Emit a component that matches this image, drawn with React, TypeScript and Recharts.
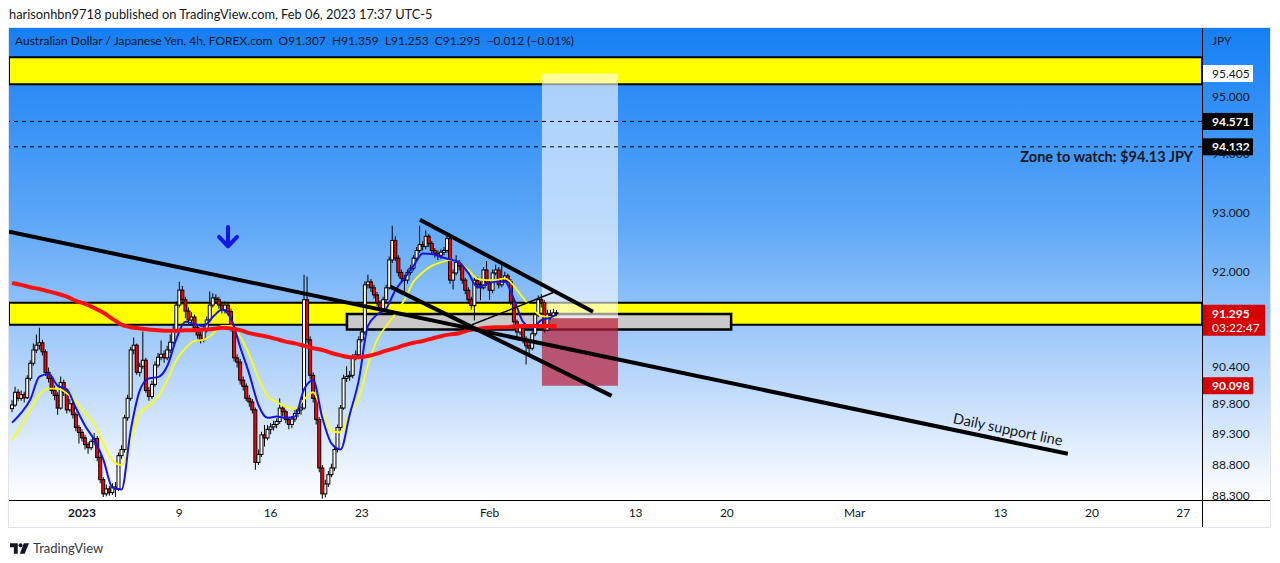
import React from "react";
import {
  ComposedChart,
  Bar,
  Line,
  XAxis,
  YAxis,
  ReferenceLine,
  ReferenceArea,
  ReferenceDot,
} from "recharts";

// AUD/JPY 4h candles (bar 0 = 27 Dec, bar 179 = 6 Feb 17:00)
const OPEN = [
  89.72, 89.78, 89.99, 89.89, 89.95, 89.9, 90.22, 90.47, 90.69, 90.77,
  90.81, 90.66, 90.32, 90.22, 90.02, 89.94, 89.73, 90.15, 89.99, 89.7,
  89.8, 89.62, 89.41, 89.33, 89.24, 89.13, 89.08, 89.18, 89.23, 88.92,
  88.56, 88.33, 88.41, 88.35, 88.44, 88.41, 88.95, 89.05, 89.57, 89.89,
  90.69, 90.77, 90.32, 90.42, 90.52, 90.02, 89.92, 90.12, 90.44, 90.57,
  90.62, 90.56, 90.69, 90.82, 91.02, 91.44, 91.69, 91.53, 91.34, 91.19,
  91.24, 91.06, 90.94, 90.86, 91.02, 91.19, 91.44, 91.56, 91.53, 91.44,
  91.36, 91.44, 91.33, 91.06, 90.56, 90.49, 90.19, 90.09, 89.89, 89.83,
  89.7, 88.84, 88.97, 89.29, 89.24, 89.38, 89.42, 89.46, 89.51, 89.73,
  89.67, 89.54, 89.46, 89.55, 89.64, 89.7, 89.73, 91.53, 90.86, 90.27,
  89.89, 89.54, 88.75, 88.33, 88.49, 88.64, 88.75, 89.05, 89.41, 89.73,
  90.22, 90.25, 90.27, 90.57, 90.61, 90.86, 90.99, 91.78, 91.83, 91.73,
  91.61, 91.48, 91.36, 91.53, 91.73, 92.2, 92.53, 92.23, 91.99, 91.89,
  91.86, 91.99, 92.06, 92.23, 92.36, 92.46, 92.43, 92.6, 92.48, 92.36,
  92.31, 92.28, 92.33, 92.36, 92.56, 91.86, 91.98, 92.16, 92.1, 91.86,
  91.69, 91.53, 91.43, 91.86, 91.79, 91.73, 92.03, 91.81, 91.69, 91.98,
  92.03, 91.78, 91.86, 91.93, 91.83, 91.49, 91.16, 90.99, 91.06, 90.86,
  90.76, 90.72, 90.96, 91.28, 91.53, 91.48, 91.02, 91.29, 91.26, 91.307,
];
const HIGH = [
  89.86, 90.08, 90.04, 90.02, 90.0, 90.27, 90.52, 90.8, 90.95, 91.06,
  90.86, 90.7, 90.4, 90.28, 90.1, 89.99, 90.25, 90.2, 90.03, 89.88,
  89.85, 89.66, 89.45, 89.38, 89.29, 89.17, 89.22, 89.32, 89.27, 88.96,
  88.6, 88.48, 88.46, 88.5, 88.52, 89.0, 89.12, 89.62, 89.95, 90.74,
  90.9, 90.8, 90.48, 91.0, 90.56, 90.08, 90.18, 90.5, 90.64, 90.85,
  90.68, 90.76, 90.95, 91.1, 91.5, 91.83, 91.76, 91.58, 91.4, 91.32,
  91.28, 91.12, 91.0, 91.08, 91.25, 91.67, 91.64, 91.62, 91.58, 91.5,
  91.5, 91.48, 91.38, 91.1, 90.62, 90.54, 90.25, 90.14, 89.95, 89.88,
  89.74, 89.05, 89.34, 89.45, 89.45, 89.48, 89.52, 89.56, 89.89, 89.78,
  89.7, 89.58, 89.6, 89.7, 89.76, 89.8, 91.95, 91.92, 90.92, 90.32,
  89.94, 89.58, 88.8, 88.56, 88.7, 88.82, 89.1, 89.46, 89.78, 90.28,
  90.42, 90.34, 90.62, 90.68, 90.92, 91.06, 91.84, 91.95, 91.88, 91.78,
  91.66, 91.52, 91.58, 91.78, 92.26, 92.78, 92.6, 92.28, 92.04, 91.95,
  92.04, 92.12, 92.28, 92.42, 92.78, 92.52, 92.7, 92.64, 92.52, 92.4,
  92.36, 92.38, 92.42, 92.62, 92.62, 92.04, 92.28, 92.2, 92.14, 91.9,
  91.74, 91.58, 91.92, 91.9, 91.84, 92.08, 92.18, 91.86, 92.04, 92.12,
  92.08, 92.14, 92.0, 91.97, 91.88, 91.54, 91.2, 91.12, 91.1, 90.92,
  90.82, 91.02, 91.34, 91.6, 91.62, 91.52, 91.36, 91.36, 91.38, 91.359,
];
const LOW = [
  89.66, 89.75, 89.84, 89.85, 89.82, 89.88, 90.18, 90.43, 90.64, 90.7,
  90.6, 90.26, 90.15, 89.96, 89.86, 89.62, 89.7, 89.93, 89.64, 89.66,
  89.56, 89.35, 89.15, 89.18, 89.05, 88.98, 89.04, 89.12, 88.86, 88.5,
  88.28, 88.29, 88.3, 88.31, 88.28, 88.38, 88.9, 89.0, 89.52, 89.85,
  90.62, 90.28, 90.25, 90.38, 89.98, 89.85, 89.88, 90.08, 90.4, 90.52,
  90.48, 90.52, 90.64, 90.78, 90.98, 91.4, 91.45, 91.22, 91.12, 91.14,
  91.0, 90.88, 90.8, 90.82, 90.98, 91.15, 91.4, 91.46, 91.38, 91.3,
  91.3, 91.26, 91.0, 90.5, 90.4, 90.12, 90.02, 89.84, 89.75, 89.64,
  88.72, 88.8, 88.93, 89.1, 89.2, 89.3, 89.36, 89.4, 89.47, 89.6,
  89.48, 89.38, 89.4, 89.5, 89.58, 89.62, 89.7, 90.8, 90.2, 89.82,
  89.46, 88.68, 88.25, 88.27, 88.44, 88.6, 88.7, 89.0, 89.36, 89.7,
  90.16, 90.18, 90.22, 90.52, 90.56, 90.82, 90.95, 91.72, 91.66, 91.55,
  91.42, 91.31, 91.32, 91.48, 91.7, 92.15, 92.18, 91.92, 91.82, 91.66,
  91.8, 91.94, 92.02, 92.18, 92.32, 92.36, 92.38, 92.42, 92.3, 92.24,
  92.2, 92.22, 92.28, 92.32, 91.8, 91.7, 91.94, 92.02, 91.8, 91.62,
  91.46, 91.36, 91.18, 91.72, 91.52, 91.7, 91.76, 91.53, 91.64, 91.94,
  91.72, 91.74, 91.82, 91.78, 91.44, 91.1, 90.92, 90.94, 90.8, 90.45,
  90.6, 90.68, 90.92, 91.24, 91.4, 90.98, 91.0, 91.2, 91.22, 91.253,
];
const CLOSE = [
  89.78, 89.99, 89.89, 89.95, 89.9, 90.22, 90.47, 90.69, 90.77, 90.81,
  90.66, 90.32, 90.22, 90.02, 89.94, 89.73, 90.15, 89.99, 89.7, 89.8,
  89.62, 89.41, 89.33, 89.24, 89.13, 89.08, 89.18, 89.23, 88.92, 88.56,
  88.33, 88.41, 88.35, 88.44, 88.41, 88.95, 89.05, 89.57, 89.89, 90.69,
  90.77, 90.32, 90.42, 90.52, 90.02, 89.92, 90.12, 90.44, 90.57, 90.62,
  90.56, 90.69, 90.82, 91.02, 91.44, 91.69, 91.53, 91.34, 91.19, 91.24,
  91.06, 90.94, 90.86, 91.02, 91.19, 91.44, 91.56, 91.53, 91.44, 91.36,
  91.44, 91.33, 91.06, 90.56, 90.49, 90.19, 90.09, 89.89, 89.83, 89.7,
  88.84, 88.97, 89.29, 89.24, 89.38, 89.42, 89.46, 89.51, 89.73, 89.67,
  89.54, 89.46, 89.55, 89.64, 89.7, 89.73, 91.53, 90.86, 90.27, 89.89,
  89.54, 88.75, 88.33, 88.49, 88.64, 88.75, 89.05, 89.41, 89.73, 90.22,
  90.25, 90.27, 90.57, 90.61, 90.86, 90.99, 91.78, 91.83, 91.73, 91.61,
  91.48, 91.36, 91.53, 91.73, 92.2, 92.53, 92.23, 91.99, 91.89, 91.86,
  91.99, 92.06, 92.23, 92.36, 92.46, 92.43, 92.6, 92.48, 92.36, 92.31,
  92.28, 92.33, 92.36, 92.56, 91.86, 91.98, 92.16, 92.1, 91.86, 91.69,
  91.53, 91.43, 91.86, 91.79, 91.73, 92.03, 91.81, 91.69, 91.98, 92.03,
  91.78, 91.86, 91.93, 91.83, 91.49, 91.16, 90.99, 91.06, 90.86, 90.76,
  90.72, 90.96, 91.28, 91.53, 91.48, 91.02, 91.29, 91.26, 91.31, 91.295,
];

// moving averages, read every 3rd bar (plus the last one)
const MA_AT = Array.from({ length: 60 }, (_, k) => k * 3).concat(179);
const MA_FAST = [
  89.49, 89.65, 89.87, 90.25, 90.29, 90.1, 90.04, 89.73, 89.44, 89.21,
  88.89, 88.43, 88.4, 89.36, 90.02, 90.22, 90.24, 90.42, 90.87, 91.16,
  91.12, 91.09, 91.24, 91.36, 91.21, 90.74, 90.29, 89.78, 89.57, 89.59,
  89.57, 89.59, 90.04, 90.19, 89.57, 89.15, 89.05, 89.62, 90.19, 91.09,
  91.28, 91.38, 91.69, 91.89, 92.1, 92.31, 92.3, 92.25, 92.21, 92.16,
  91.98, 91.74, 91.79, 91.83, 91.83, 91.54, 91.16, 91.06, 91.19, 91.23,
  91.28,
];
const MA_SLOW = [
  89.21, 89.44, 89.7, 89.95, 90.05, 90.05, 89.97, 89.83, 89.65, 89.47,
  89.16, 88.87, 88.8, 89.21, 89.64, 89.77, 89.92, 90.19, 90.52, 90.72,
  90.84, 90.86, 90.96, 91.09, 91.09, 90.91, 90.61, 90.22, 89.92, 89.83,
  89.75, 89.72, 89.87, 89.99, 89.65, 89.36, 89.33, 89.65, 89.9, 90.44,
  90.86, 91.09, 91.29, 91.53, 91.83, 91.99, 92.1, 92.16, 92.2, 92.16,
  92.03, 91.88, 91.86, 91.86, 91.89, 91.76, 91.56, 91.38, 91.26, 91.24,
  91.24,
];
const MA_200 = [
  91.81, 91.78, 91.74, 91.71, 91.67, 91.63, 91.58, 91.51, 91.46, 91.39,
  91.31, 91.21, 91.11, 91.07, 91.05, 91.03, 91.02, 91.01, 91.01, 91.02,
  91.02, 91.03, 91.04, 91.06, 91.05, 91.02, 90.97, 90.94, 90.91, 90.87,
  90.83, 90.8, 90.76, 90.72, 90.69, 90.64, 90.6, 90.57, 90.57, 90.59,
  90.63, 90.68, 90.72, 90.77, 90.81, 90.84, 90.88, 90.92, 90.95, 90.97,
  91.02, 91.04, 91.06, 91.07, 91.07, 91.08, 91.09, 91.09, 91.09, 91.09,
  91.09,
];

const TICK_AT = [23, 55, 85, 115, 157, 205, 235, 277, 325, 355, 385];
const TICK_LABELS = ["2023", "9", "16", "23", "Feb", "13", "20", "Mar", "13", "20", "27"];
const PRICE_TICKS = [88.3, 88.8, 89.3, 89.8, 90.4, 92, 93, 94, 95];

// drawings (bar index / price)
const UPPER_ZONE = [95.22, 95.69];
const LOWER_ZONE = [91.11, 91.48];
const GRAY_BOX = { x: [110.1, 236.4], y: [91.03, 91.29] };
const LONG_POS = { x: [174.2, 199.2], target: 95.405, entry: 91.22, stop: 90.098 };
const WATCH_LEVELS = [94.571, 94.132];
const LAST_PRICE = 91.295;
const SUPPORT_LINE = [{ x: -1, y: 92.68 }, { x: 347.1, y: 88.98 }];
const WEDGE_TOP = [{ x: 134.1, y: 92.88 }, { x: 191, y: 91.33 }];
const WEDGE_BOTTOM = [{ x: 124.3, y: 91.75 }, { x: 197.1, y: 89.93 }];
const THIN_LINE = [{ x: 151.2, y: 91.11 }, { x: 177.9, y: 91.65 }];
const ARROW_AT = { x: 71, y: 92.59 };

const X_DOMAIN = [-1, 391.2];
const Y_DOMAIN = [88.23, 96.205];

const FONT = "Lato, 'Noto Sans', sans-serif";
const TEXT = "#131722";

const rows = CLOSE.map((c, i) => {
  const o = OPEN[i];
  const k = MA_AT.indexOf(i);
  return {
    i,
    wick: [LOW[i], HIGH[i]],
    body: [Math.min(o, c), Math.max(o, c)],
    up: c >= o,
    fast: k >= 0 ? MA_FAST[k] : null,
    slow: k >= 0 ? MA_SLOW[k] : null,
    ma200: k >= 0 ? MA_200[k] : null,
  };
});

function CandleBody(props: any) {
  const { x, y, width, height, payload } = props;
  if (x == null || y == null) return null;
  return (
    <rect
      x={x}
      y={y}
      width={width}
      height={Math.max(height, 1)}
      fill={payload.up ? "#ffffff" : "#ff0000"}
      stroke="#000"
      strokeWidth={1}
    />
  );
}

function TimeTick(props: any) {
  const { x, payload } = props;
  const idx = TICK_AT.indexOf(payload.value);
  const label = TICK_LABELS[idx];
  return (
    <text
      x={x}
      y={489}
      textAnchor="middle"
      fontFamily={FONT}
      fontSize={12}
      fontWeight={label === "2023" ? 700 : 400}
      fill={TEXT}
    >
      {label}
    </text>
  );
}

function PriceTick(props: any) {
  const { y, payload } = props;
  return (
    <text x={1203} y={y + 4} fontFamily={FONT} fontSize={12} fill={TEXT}>
      {payload.value.toFixed(3)}
    </text>
  );
}

function PriceTag(props: any) {
  const { viewBox, text, sub, bg, color, w, bold } = props;
  if (!viewBox) return null;
  const left = viewBox.x + viewBox.width;
  const top = sub ? viewBox.y - 9 : viewBox.y - 8.5;
  return (
    <g>
      <rect x={left} y={top} width={w} height={sub ? 31 : 17} fill={bg} />
      <text
        x={left + 10}
        y={top + 13}
        fontFamily={FONT}
        fontSize={12}
        fontWeight={bold ? 700 : 400}
        fill={color}
      >
        {text}
      </text>
      {sub && (
        <text x={left + 10} y={top + 27} fontFamily={FONT} fontSize={12} fill={color}>
          {sub}
        </text>
      )}
    </g>
  );
}

function DownArrow(props: any) {
  const { cx, cy } = props;
  if (cx == null) return null;
  return (
    <path
      d={`M${cx} ${cy - 10} V${cy + 9} M${cx - 9} ${cy} L${cx} ${cy + 9.5} L${cx + 9} ${cy}`}
      stroke="#1414eb"
      strokeWidth={4}
      fill="none"
      strokeLinecap="round"
      strokeLinejoin="round"
    />
  );
}

function TvLogo() {
  return (
    <svg width="19" height="11" viewBox="0 0 22 12" style={{ display: "block" }}>
      <path d="M0 0h9v12h-4.5v-7.5h-4.5z" fill="#131722" />
      <circle cx="12.2" cy="2.3" r="2.3" fill="#131722" />
      <path d="M16 0h6l-5 12h-5.6z" fill="#131722" />
    </svg>
  );
}

export default function App() {
  return (
    <div
      style={{
        position: "relative",
        width: 1280,
        height: 563,
        margin: -8,
        background: "#ffffff",
        fontFamily: FONT,
        overflow: "hidden",
      }}
    >
      <div style={{ position: "absolute", left: 9, top: 6, fontSize: 12.8, color: TEXT }}>
        harisonhbn9718 published on TradingView.com, Feb 06, 2023 17:37 UTC-5
      </div>

      {/* panel */}
      <div
        style={{
          position: "absolute",
          left: 8,
          top: 27,
          width: 1263,
          height: 501,
          border: "1px solid #e0e3eb",
          boxSizing: "border-box",
        }}
      />
      <div
        style={{
          position: "absolute",
          left: 9,
          top: 28,
          width: 1261,
          height: 472,
          background: "linear-gradient(180deg, #167ff5 0%, #5aa6f7 40%, #a9cefa 68%, #ffffff 100%)",
        }}
      />

      <div style={{ position: "absolute", left: 9, top: 28 }}>
        <ComposedChart
          width={1261}
          height={499}
          data={rows}
          margin={{ top: 0, right: 0, bottom: 0, left: 0 }}
        >
          <XAxis
            xAxisId="w"
            type="number"
            dataKey="i"
            domain={X_DOMAIN}
            allowDataOverflow
            ticks={TICK_AT}
            interval={0}
            tick={<TimeTick />}
            tickLine={false}
            axisLine={false}
            height={27}
          />
          <XAxis xAxisId="b" type="number" dataKey="i" domain={X_DOMAIN} allowDataOverflow hide />
          <YAxis
            orientation="right"
            scale="log"
            domain={Y_DOMAIN}
            allowDataOverflow
            ticks={PRICE_TICKS}
            interval={0}
            width={68}
            tick={<PriceTick />}
            tickLine={false}
            axisLine={false}
          />

          <ReferenceArea
            xAxisId="w"
            y1={UPPER_ZONE[0]}
            y2={UPPER_ZONE[1]}
            fill="#ffff00"
            fillOpacity={1}
            stroke="#000"
            strokeWidth={2}
          />
          <ReferenceArea
            xAxisId="w"
            y1={LOWER_ZONE[0]}
            y2={LOWER_ZONE[1]}
            fill="#ffff00"
            fillOpacity={1}
            stroke="#000"
            strokeWidth={2}
          />
          <ReferenceArea
            xAxisId="w"
            x1={GRAY_BOX.x[0]}
            x2={GRAY_BOX.x[1]}
            y1={GRAY_BOX.y[0]}
            y2={GRAY_BOX.y[1]}
            fill="#c9c9c9"
            fillOpacity={1}
            stroke="#000"
            strokeWidth={2.5}
          />
          <ReferenceArea
            xAxisId="w"
            x1={LONG_POS.x[0]}
            x2={LONG_POS.x[1]}
            y1={LONG_POS.entry}
            y2={LONG_POS.target}
            fill="#ffffff"
            fillOpacity={0.6}
          />
          <ReferenceArea
            xAxisId="w"
            x1={LONG_POS.x[0]}
            x2={LONG_POS.x[1]}
            y1={LONG_POS.stop}
            y2={LONG_POS.entry}
            fill="#be1e37"
            fillOpacity={0.7}
          />

          <Bar xAxisId="w" dataKey="wick" barSize={1} fill="#000" isAnimationActive={false} />
          <Bar
            xAxisId="b"
            dataKey="body"
            barSize={3}
            shape={<CandleBody />}
            minPointSize={1}
            isAnimationActive={false}
          />

          <Line
            xAxisId="w"
            dataKey="slow"
            type="monotone"
            stroke="#ffff00"
            strokeWidth={1.8}
            dot={false}
            connectNulls
            isAnimationActive={false}
          />
          <Line
            xAxisId="w"
            dataKey="fast"
            type="monotone"
            stroke="#1414eb"
            strokeWidth={2}
            dot={false}
            connectNulls
            isAnimationActive={false}
          />
          <Line
            xAxisId="w"
            dataKey="ma200"
            type="monotone"
            stroke="#ff1010"
            strokeWidth={4}
            dot={false}
            connectNulls
            isAnimationActive={false}
          />

          <ReferenceLine
            xAxisId="w"
            segment={SUPPORT_LINE}
            stroke="#000"
            strokeWidth={4}
            ifOverflow="visible"
          />
          <ReferenceLine xAxisId="w" segment={WEDGE_TOP} stroke="#000" strokeWidth={4} ifOverflow="visible" />
          <ReferenceLine
            xAxisId="w"
            segment={WEDGE_BOTTOM}
            stroke="#000"
            strokeWidth={4}
            ifOverflow="visible"
          />
          <ReferenceLine xAxisId="w" segment={THIN_LINE} stroke="#000" strokeWidth={1.5} ifOverflow="visible" />

          <ReferenceDot xAxisId="w" x={ARROW_AT.x} y={ARROW_AT.y} shape={<DownArrow />} ifOverflow="visible" />

          <ReferenceLine
            xAxisId="w"
            y={LONG_POS.target}
            stroke="none"
            label={<PriceTag text="95.405" bg="#ffffff" color={TEXT} w={51} />}
          />
          <ReferenceLine
            xAxisId="w"
            y={WATCH_LEVELS[0]}
            stroke="#000"
            strokeDasharray="4 4"
            label={<PriceTag text="94.571" bg="#000000" color="#ffffff" w={51} bold />}
          />
          <ReferenceLine
            xAxisId="w"
            y={WATCH_LEVELS[1]}
            stroke="#000"
            strokeDasharray="4 4"
            label={<PriceTag text="94.132" bg="#000000" color="#ffffff" w={51} bold />}
          />
          <ReferenceLine
            xAxisId="w"
            y={LAST_PRICE}
            stroke="none"
            label={<PriceTag text="91.295" sub="03:22:47" bg="#d60000" color="#ffffff" w={63} bold />}
          />
          <ReferenceLine
            xAxisId="w"
            y={LONG_POS.stop}
            stroke="none"
            label={<PriceTag text="90.098" bg="#d60000" color="#ffffff" w={51} bold />}
          />
        </ComposedChart>
      </div>

      {/* axis separators */}
      <div style={{ position: "absolute", left: 1202, top: 28, width: 1, height: 499, background: "#000" }} />
      <div style={{ position: "absolute", left: 9, top: 500, width: 1261, height: 1, background: "#000" }} />

      <div style={{ position: "absolute", left: 15, top: 33, fontSize: 12, color: TEXT, whiteSpace: "pre" }}>
        {"Australian Dollar / Japanese Yen, 4h, FOREX.com  O91.307  H91.359  L91.253  C91.295  \u22120.012 (\u22120.01%)"}
      </div>
      <div style={{ position: "absolute", left: 1212, top: 33, fontSize: 12, color: TEXT }}>JPY</div>

      <div
        style={{
          position: "absolute",
          right: 87,
          top: 148,
          fontSize: 14.5,
          fontWeight: 700,
          color: TEXT,
          whiteSpace: "nowrap",
        }}
      >
        Zone to watch: $94.13 JPY
      </div>
      <div
        style={{
          position: "absolute",
          left: 1008,
          top: 429,
          fontSize: 14.5,
          color: TEXT,
          whiteSpace: "nowrap",
          transform: "translate(-50%, -50%) rotate(11.85deg)",
        }}
      >
        Daily support line
      </div>

      <div style={{ position: "absolute", left: 10, top: 540, display: "flex", alignItems: "center", gap: 4 }}>
        <TvLogo />
        <span style={{ fontSize: 13, color: "#363a45" }}>TradingView</span>
      </div>
    </div>
  );
}
